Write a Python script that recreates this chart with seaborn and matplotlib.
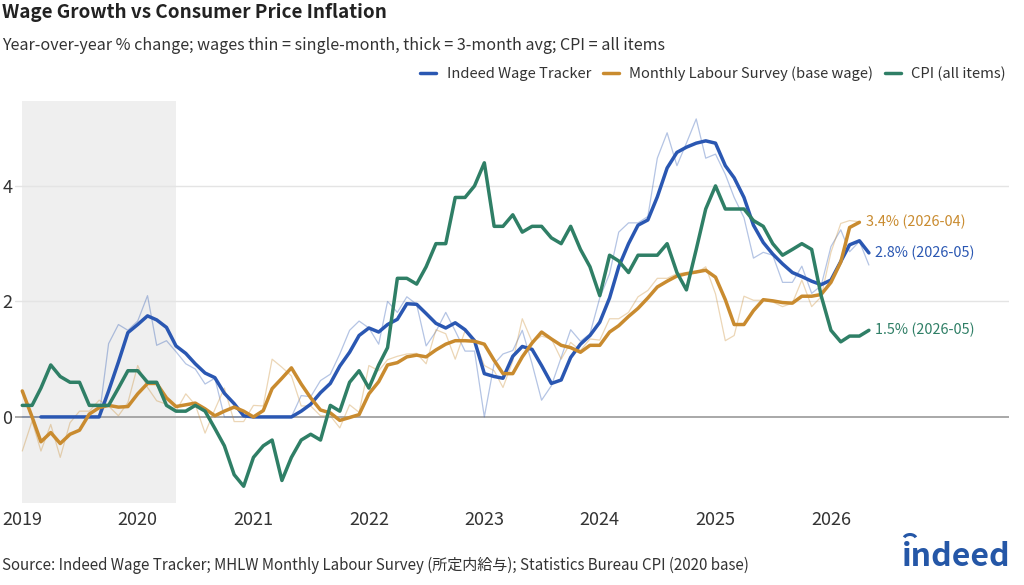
import numpy as np
import pandas as pd
import matplotlib
matplotlib.use("Agg")
import matplotlib.pyplot as plt
from matplotlib.lines import Line2D
from matplotlib.patches import Arc
import seaborn as sns

# ---------------- data ----------------
months = pd.date_range("2019-01-01", "2026-05-01", freq="MS")

indeed_thin = [0, 0, 0, 0, 0, 0, 0, 0, 0, 1.27, 1.6, 1.5,
               1.66, 2.1, 1.24, 1.32, 1.13, 0.92, 0.83, 0.57, 0.67, 0.0, 0, 0,
               0, 0, 0, 0, 0, 0.37, 0.35, 0.63, 0.74, 1.09, 1.5, 1.66,
               1.54, 1.26, 2.0, 1.81, 2.08, 1.95, 1.23, 1.48, 1.81, 1.49, 1.14, 1.14,
               0.0, 0.92, 1.09, 1.15, 1.5, 0.92, 0.29, 0.54, 1.03, 1.51, 1.31, 1.44,
               2.06, 2.48, 3.2, 3.36, 3.36, 3.47, 4.48, 4.92, 4.35, 4.74, 5.16, 4.48,
               4.55, 4.2, 3.8, 3.45, 2.75, 2.85, 2.8, 2.33, 2.33, 2.61, 2.14, 2.27,
               2.95, 3.24, 2.86, 3.04, 2.63]

indeed_avg = [np.nan, np.nan, 0, 0, 0, 0, 0, 0, 0, 0.45, 0.95, 1.46,
              1.6, 1.75, 1.68, 1.55, 1.23, 1.1, 0.92, 0.76, 0.68, 0.41, 0.23, 0.02,
              0, 0, 0, 0, 0, 0.1, 0.22, 0.42, 0.58, 0.88, 1.12, 1.41,
              1.54, 1.47, 1.6, 1.69, 1.96, 1.95, 1.79, 1.62, 1.54, 1.63, 1.51, 1.32,
              0.75, 0.7, 0.67, 1.05, 1.22, 1.17, 0.89, 0.58, 0.64, 1.03, 1.26, 1.41,
              1.64, 2.06, 2.6, 3.0, 3.32, 3.41, 3.81, 4.31, 4.58, 4.67, 4.74, 4.78,
              4.74, 4.35, 4.14, 3.8, 3.32, 3.02, 2.82, 2.65, 2.5, 2.43, 2.35, 2.29,
              2.37, 2.69, 2.98, 3.05, 2.84]

mls_thin = [-0.59, -0.07, -0.59, -0.13, -0.7, -0.1, 0.1, 0.1, 0.29, 0.19, 0.02, 0.25,
            0.89, 0.51, 0.28, 0.22, 0.1, 0.4, 0.21, -0.28, 0.13, 0.5, -0.08, -0.08,
            0.2, 0.19, 1.0, 0.86, 0.71, 0.19, 0.19, 0.02, 0.02, -0.19, 0.21, 0.08,
            0.89, 0.8, 0.99, 1.05, 1.09, 1.1, 0.92, 1.51, 1.44, 1.0, 1.49, 1.33,
            0.89, 0.8, 0.51, 0.97, 1.7, 1.3, 1.4, 1.35, 1.0, 1.29, 1.15, 1.35,
            1.33, 1.7, 1.7, 1.81, 2.08, 2.19, 2.4, 2.4, 2.48, 2.5, 2.49, 2.6,
            2.13, 1.32, 1.41, 2.09, 2.02, 2.02, 1.99, 1.91, 1.97, 2.37, 1.91, 2.08,
            2.85, 3.35, 3.4, 3.38, np.nan]

mls_avg = [0.45, 0.0, -0.43, -0.27, -0.46, -0.3, -0.23, 0.05, 0.16, 0.2, 0.17, 0.18,
           0.4, 0.58, 0.58, 0.33, 0.18, 0.21, 0.24, 0.14, 0.02, 0.1, 0.17, 0.1,
           0.0, 0.11, 0.49, 0.67, 0.85, 0.57, 0.33, 0.12, 0.07, -0.06, -0.01, 0.04,
           0.4, 0.61, 0.9, 0.94, 1.04, 1.07, 1.04, 1.16, 1.26, 1.32, 1.32, 1.31,
           1.26, 0.98, 0.75, 0.75, 1.04, 1.28, 1.47, 1.35, 1.24, 1.2, 1.12, 1.24,
           1.24, 1.47, 1.58, 1.74, 1.88, 2.06, 2.25, 2.35, 2.44, 2.48, 2.51, 2.54,
           2.42, 2.03, 1.6, 1.6, 1.84, 2.03, 2.01, 1.98, 1.97, 2.09, 2.09, 2.12,
           2.33, 2.68, 3.28, 3.37, np.nan]

cpi = [0.2, 0.2, 0.5, 0.9, 0.7, 0.6, 0.6, 0.2, 0.2, 0.2, 0.5, 0.8,
       0.8, 0.6, 0.6, 0.2, 0.1, 0.1, 0.2, 0.1, -0.2, -0.5, -1.0, -1.2,
       -0.7, -0.5, -0.4, -1.1, -0.7, -0.4, -0.3, -0.4, 0.2, 0.1, 0.6, 0.8,
       0.5, 0.9, 1.2, 2.4, 2.4, 2.3, 2.6, 3.0, 3.0, 3.8, 3.8, 4.0,
       4.4, 3.3, 3.3, 3.5, 3.2, 3.3, 3.3, 3.1, 3.0, 3.3, 2.9, 2.6,
       2.1, 2.8, 2.7, 2.5, 2.8, 2.8, 2.8, 3.0, 2.5, 2.2, 2.9, 3.6,
       4.0, 3.6, 3.6, 3.6, 3.4, 3.3, 3.0, 2.8, 2.9, 3.0, 2.9, 2.1,
       1.5, 1.3, 1.4, 1.4, 1.5]

series_names = ["Indeed Wage Tracker", "Monthly Labour Survey (base wage)", "CPI (all items)"]
end_labels = ["2.8% (2026-05)", "3.4% (2026-04)", "1.5% (2026-05)"]
x_tick_years = ["2019", "2020", "2021", "2022", "2023", "2024", "2025", "2026"]
y_ticks = [0, 2, 4]
shade_range = ("2019-01-01", "2020-05-01")

df = pd.DataFrame({
    "date": months,
    "indeed_thin": indeed_thin,
    "indeed_avg": indeed_avg,
    "mls_thin": mls_thin,
    "mls_avg": mls_avg,
    "cpi": cpi,
})

# ---------------- style ----------------
BLUE = "#2a57b2"
ORANGE = "#c98b2f"
GREEN = "#2f7f66"
TXT = "#333333"

sns.set_theme(style="white")
plt.rcParams["font.family"] = ["Noto Sans CJK JP", "DejaVu Sans"]

fig = plt.figure(figsize=(10.24, 5.85), dpi=100)
ax = fig.add_axes([15 / 1024, 1 - 503 / 585, (1009 - 15) / 1024, (503 - 101) / 585])

ax.axvspan(pd.Timestamp(shade_range[0]), pd.Timestamp(shade_range[1]),
           color="#efefef", lw=0, zorder=0)
for yv in y_ticks[1:]:
    ax.axhline(yv, color="#e4e4e4", lw=1.0, zorder=1)
ax.axhline(0, color="#9a9a9a", lw=1.2, zorder=1)

thin_kw = dict(lw=0.9, alpha=0.35, estimator=None, legend=False, zorder=2)
thick_kw = dict(lw=2.5, estimator=None, legend=False, zorder=3)

sns.lineplot(data=df, x="date", y="indeed_thin", color=BLUE, ax=ax, **thin_kw)
sns.lineplot(data=df, x="date", y="mls_thin", color=ORANGE, ax=ax, **thin_kw)
sns.lineplot(data=df, x="date", y="indeed_avg", color=BLUE, ax=ax, **thick_kw)
sns.lineplot(data=df, x="date", y="mls_avg", color=ORANGE, ax=ax, **thick_kw)
sns.lineplot(data=df, x="date", y="cpi", color=GREEN, ax=ax, **thick_kw)

# end labels
for col, lab, color in [("indeed_avg", end_labels[0], BLUE),
                        ("mls_avg", end_labels[1], ORANGE),
                        ("cpi", end_labels[2], GREEN)]:
    s = df[["date", col]].dropna()
    ax.annotate(lab, xy=(s["date"].iloc[-1], s[col].iloc[-1]), xytext=(4.5, 0),
                textcoords="offset points", va="center", ha="left",
                color=color, fontsize=10.4)

ax.set_xlim(pd.Timestamp("2018-12-09"), pd.Timestamp("2027-07-18"))
ax.set_ylim(-1.49, 5.47)
ax.set_xticks([pd.Timestamp(f"{y}-01-01") for y in x_tick_years])
ax.set_xticklabels(x_tick_years)
ax.set_yticks(y_ticks)
ax.set_yticklabels([str(v) for v in y_ticks])
ax.tick_params(axis="both", length=0, labelsize=13, colors=TXT)
ax.tick_params(axis="x", pad=6)
ax.tick_params(axis="y", pad=2)
ax.set_xlabel("")
ax.set_ylabel("")
for sp in ax.spines.values():
    sp.set_visible(False)
ax.grid(False)

handles = [Line2D([], [], color=c, lw=2.5) for c in (BLUE, ORANGE, GREEN)]
leg = ax.legend(handles, series_names, loc="lower right", bbox_to_anchor=(1.003, 1.035),
                ncol=3, frameon=False, fontsize=10.6, handlelength=1.1,
                handletextpad=0.7, columnspacing=0.8, borderaxespad=0)
for t in leg.get_texts():
    t.set_color(TXT)

fig.text(0.002, 1 - 13 / 585, "Wage Growth vs Consumer Price Inflation",
         fontsize=13.6, weight="bold", color="#222222", va="center", ha="left")
fig.text(0.002, 1 - 45 / 585,
         "Year-over-year % change; wages thin = single-month, thick = 3-month avg; CPI = all items",
         fontsize=11.6, color=TXT, va="center", ha="left")
fig.text(0.002, 1 - 565 / 585,
         "Source: Indeed Wage Tracker; MHLW Monthly Labour Survey (所定内給与); Statistics Bureau CPI (2020 base)",
         fontsize=10.85, color=TXT, va="center", ha="left")
fig.text(1010 / 1024, 1 - 557 / 585, "indeed", fontsize=23, weight="bold",
         color="#2557a7", va="center", ha="right")
fig.add_artist(Arc((9.10, 0.455), 0.13, 0.10, theta1=20, theta2=160,
                   transform=fig.dpi_scale_trans, color="#2557a7", lw=2.2))

fig.savefig("out.png", dpi=100)
